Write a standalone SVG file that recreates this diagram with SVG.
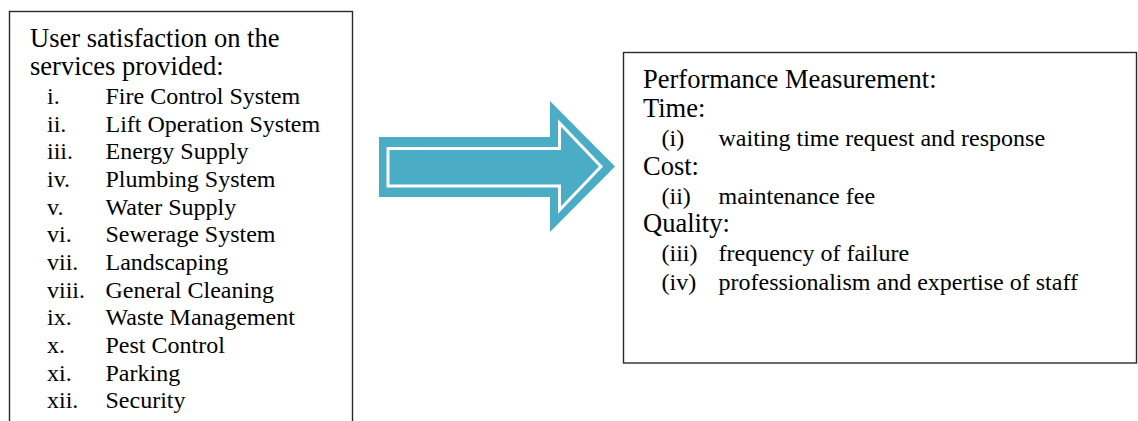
<svg xmlns="http://www.w3.org/2000/svg" width="1138" height="421" viewBox="0 0 1138 421">
  <style>
    .box { fill: #ffffff; stroke: #2a2a2a; stroke-width: 1.4; }
    .head { font-family: "Liberation Serif", "Times New Roman", serif; font-size: 26.5px; fill: #000000; }
    .item { font-family: "Liberation Serif", "Times New Roman", serif; font-size: 24px; fill: #000000; }
    .arrow-body { fill: #4BACC6; }
    .arrow-line { fill: none; stroke: #ffffff; stroke-width: 3; stroke-linejoin: miter; }
  </style>
  <rect width="1138" height="421" fill="#ffffff"/>

  <!-- Services list -->
  <g id="services">
    <rect class="box" x="9.5" y="11.5" width="343" height="420"/>
    <text class="head" x="30" y="47">User satisfaction on the</text>
    <text class="head" x="30" y="75">services provided:</text>
    <g class="item">
      <text x="47" y="104">i.</text><text x="105.5" y="104">Fire Control System</text>
      <text x="47" y="131.7">ii.</text><text x="105.5" y="131.7">Lift Operation System</text>
      <text x="47" y="159.3">iii.</text><text x="105.5" y="159.3">Energy Supply</text>
      <text x="47" y="187">iv.</text><text x="105.5" y="187">Plumbing System</text>
      <text x="47" y="214.6">v.</text><text x="105.5" y="214.6">Water Supply</text>
      <text x="47" y="242.3">vi.</text><text x="105.5" y="242.3">Sewerage System</text>
      <text x="47" y="269.9">vii.</text><text x="105.5" y="269.9">Landscaping</text>
      <text x="47" y="297.6">viii.</text><text x="105.5" y="297.6">General Cleaning</text>
      <text x="47" y="325.2">ix.</text><text x="105.5" y="325.2">Waste Management</text>
      <text x="47" y="352.9">x.</text><text x="105.5" y="352.9">Pest Control</text>
      <text x="47" y="380.5">xi.</text><text x="105.5" y="380.5">Parking</text>
      <text x="47" y="408.2">xii.</text><text x="105.5" y="408.2">Security</text>
    </g>
  </g>

  <!-- Block arrow between the boxes -->
  <g id="connectors">
    <g id="arrow">
      <polygon class="arrow-body" points="379,137 550,137 550,101 615,166.5 550,232 550,197 379,197"/>
      <polygon class="arrow-line" points="388,148.5 559.5,148.5 559.5,123 601,166.5 559.5,210 559.5,186 388,186"/>
    </g>
  </g>

  <!-- Performance measurement -->
  <g id="performance">
    <rect class="box" x="623.5" y="52.5" width="513" height="310.5"/>
    <text class="head" x="643" y="88">Performance Measurement:</text>
    <text class="head" x="643" y="117">Time:</text>
    <text class="item" x="661.5" y="146">(i)</text>
    <text class="item" x="718.5" y="146">waiting time request and response</text>
    <text class="head" x="643" y="175">Cost:</text>
    <text class="item" x="661.5" y="203.5">(ii)</text>
    <text class="item" x="718.5" y="203.5">maintenance fee</text>
    <text class="head" x="643" y="232">Quality:</text>
    <text class="item" x="661.5" y="261">(iii)</text>
    <text class="item" x="718.5" y="261">frequency of failure</text>
    <text class="item" x="661.5" y="289.5">(iv)</text>
    <text class="item" x="718.5" y="289.5">professionalism and expertise of staff</text>
  </g>
</svg>
